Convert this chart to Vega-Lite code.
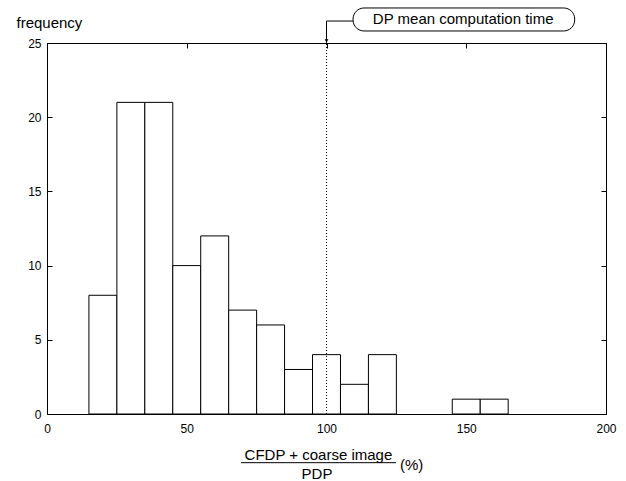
{
  "$schema": "https://vega.github.io/schema/vega-lite/v6.json",
  "width": 559,
  "height": 371,
  "autosize": {"type": "none"},
  "padding": {"left": 47, "top": 43, "right": 20, "bottom": 67},
  "background": "white",
  "config": {
    "view": {"stroke": "black", "strokeWidth": 1},
    "font": "Liberation Sans",
    "axis": {
      "grid": false,
      "domain": false,
      "ticks": true,
      "tickColor": "black",
      "tickSize": -5,
      "tickWidth": 1,
      "labelFlush": false,
      "labelOverlap": false,
      "labelFont": "Liberation Sans",
      "labelFontSize": 12,
      "labelColor": "black",
      "titleFont": "Liberation Sans",
      "titleColor": "black"
    }
  },
  "layer": [
    {
      "data": {
        "values": [
          {"start": 15, "end": 25, "count": 8},
          {"start": 25, "end": 35, "count": 21},
          {"start": 35, "end": 45, "count": 21},
          {"start": 45, "end": 55, "count": 10},
          {"start": 55, "end": 65, "count": 12},
          {"start": 65, "end": 75, "count": 7},
          {"start": 75, "end": 85, "count": 6},
          {"start": 85, "end": 95, "count": 3},
          {"start": 95, "end": 105, "count": 4},
          {"start": 105, "end": 115, "count": 2},
          {"start": 115, "end": 125, "count": 4},
          {"start": 145, "end": 155, "count": 1},
          {"start": 155, "end": 165, "count": 1}
        ]
      },
      "mark": {"type": "rect", "fill": "white", "stroke": "black", "strokeWidth": 1},
      "encoding": {
        "x": {
          "field": "start", "type": "quantitative",
          "scale": {"domain": [0, 200], "nice": false, "zero": false},
          "axis": {"orient": "bottom", "values": [0, 50, 100, 150, 200], "title": null, "labelPadding": 14}
        },
        "x2": {"field": "end"},
        "y": {
          "field": "count", "type": "quantitative",
          "scale": {"domain": [0, 25], "nice": false},
          "axis": {
            "orient": "left", "values": [0, 5, 10, 15, 20, 25], "labelPadding": 11,
            "title": "frequency", "titleAngle": 0, "titleAlign": "left", "titleBaseline": "alphabetic",
            "titleX": -31, "titleY": -16, "titleFontSize": 15, "titleFontWeight": "normal"
          }
        },
        "y2": {"datum": 0}
      }
    },
    {
      "data": {"values": [{"x": 100, "y": 0, "y2": 25}]},
      "mark": {"type": "rule", "color": "black", "strokeWidth": 1, "strokeDash": [1, 2]},
      "encoding": {
        "x": {"field": "x", "type": "quantitative", "axis": {"orient": "top", "values": [0, 50, 100, 150, 200], "labels": false, "title": null}},
        "y": {"field": "y", "type": "quantitative", "axis": {"orient": "right", "values": [0, 5, 10, 15, 20, 25], "labels": false, "title": null}},
        "y2": {"field": "y2"}
      }
    },
    {
      "data": {"values": [{"x": 100, "y": 25, "y2": 26.48}]},
      "mark": {"type": "rule", "color": "black", "strokeWidth": 1},
      "encoding": {
        "x": {"field": "x", "type": "quantitative", "axis": null},
        "y": {"field": "y", "type": "quantitative", "axis": null},
        "y2": {"field": "y2"}
      }
    },
    {
      "data": {"values": [{"x": 100, "x2": 109.5, "y": 26.48}]},
      "mark": {"type": "rule", "color": "black", "strokeWidth": 1},
      "encoding": {
        "x": {"field": "x", "type": "quantitative", "axis": null},
        "x2": {"field": "x2"},
        "y": {"field": "y", "type": "quantitative", "axis": null}
      }
    },
    {
      "data": {"values": [{"x": 100, "y": 25.14}]},
      "mark": {"type": "point", "shape": "triangle-down", "filled": true, "color": "black", "size": 14, "opacity": 1},
      "encoding": {
        "x": {"field": "x", "type": "quantitative", "axis": null},
        "y": {"field": "y", "type": "quantitative", "axis": null}
      }
    },
    {
      "data": {"values": [{"x": 109.5, "x2": 188.8, "y": 25.81, "y2": 27.36}]},
      "mark": {"type": "rect", "fill": "white", "stroke": "black", "strokeWidth": 1, "cornerRadius": 11},
      "encoding": {
        "x": {"field": "x", "type": "quantitative", "axis": null},
        "x2": {"field": "x2"},
        "y": {"field": "y", "type": "quantitative", "axis": null},
        "y2": {"field": "y2"}
      }
    },
    {
      "data": {"values": [{"x": 148.9, "y": 26.6, "t": "DP mean computation time"}]},
      "mark": {"type": "text", "font": "Liberation Sans", "fontSize": 15, "color": "black", "align": "center", "baseline": "middle"},
      "encoding": {
        "x": {"field": "x", "type": "quantitative", "axis": null},
        "y": {"field": "y", "type": "quantitative", "axis": null},
        "text": {"field": "t"}
      }
    },
    {
      "data": {"values": [{"x": 69.4, "x2": 124.9, "y": -3.28}]},
      "mark": {"type": "rule", "color": "black", "strokeWidth": 1},
      "encoding": {
        "x": {"field": "x", "type": "quantitative", "axis": null},
        "x2": {"field": "x2"},
        "y": {"field": "y", "type": "quantitative", "axis": null}
      }
    },
    {
      "data": {"values": [
        {"x": 97.1, "y": -3.07, "t": "CFDP + coarse image"},
        {"x": 96.6, "y": -4.38, "t": "PDP"}
      ]},
      "mark": {"type": "text", "font": "Liberation Sans", "fontSize": 15, "color": "black", "align": "center", "baseline": "alphabetic"},
      "encoding": {
        "x": {"field": "x", "type": "quantitative", "axis": null},
        "y": {"field": "y", "type": "quantitative", "axis": null},
        "text": {"field": "t"}
      }
    },
    {
      "data": {"values": [{"x": 126.3, "y": -3.44, "t": "(%)"}]},
      "mark": {"type": "text", "font": "Liberation Sans", "fontSize": 15, "color": "black", "align": "left", "baseline": "middle"},
      "encoding": {
        "x": {"field": "x", "type": "quantitative", "axis": null},
        "y": {"field": "y", "type": "quantitative", "axis": null},
        "text": {"field": "t"}
      }
    }
  ],
  "resolve": {"axis": {"x": "independent", "y": "independent"}}
}
